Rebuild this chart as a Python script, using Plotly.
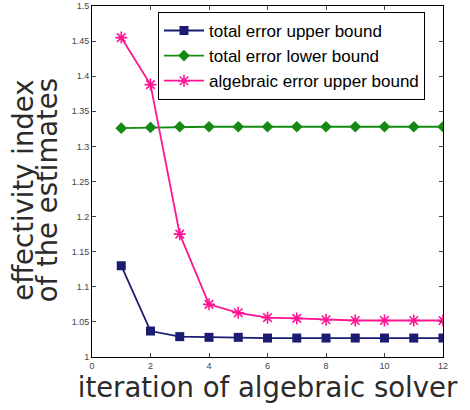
import plotly.graph_objects as go

iterations = [1, 2, 3, 4, 5, 6, 7, 8, 9, 10, 11, 12]
total_upper = [1.130, 1.037, 1.029, 1.028, 1.028, 1.027, 1.027, 1.027, 1.027, 1.027, 1.027, 1.027]
total_lower = [1.326, 1.327, 1.328, 1.328, 1.328, 1.328, 1.328, 1.328, 1.328, 1.328, 1.328, 1.328]
alg_upper = [1.455, 1.388, 1.175, 1.075, 1.063, 1.056, 1.055, 1.053, 1.052, 1.052, 1.052, 1.052]

names = ["total error upper bound", "total error lower bound", "algebraic error upper bound"]
y_ticks = [1, 1.05, 1.1, 1.15, 1.2, 1.25, 1.3, 1.35, 1.4, 1.45, 1.5]
y_tick_labels = ["1", "1.05", "1.1", "1.15", "1.2", "1.25", "1.3", "1.35", "1.4", "1.45", "1.5"]
x_ticks = [0, 2, 4, 6, 8, 10, 12]
x_title = "iteration of algebraic solver"
y_title_lines = ["effectivity index", "of the estimates"]

fig = go.Figure()
fig.add_trace(go.Scatter(x=iterations, y=total_upper, name=names[0], mode="lines+markers",
                         line=dict(color="#1b1b72", width=1.8),
                         marker=dict(symbol="square", size=9, color="#1b1b72")))
fig.add_trace(go.Scatter(x=iterations, y=total_lower, name=names[1], mode="lines+markers",
                         line=dict(color="#148a14", width=1.8),
                         marker=dict(symbol="diamond", size=9, color="#148a14")))
fig.add_trace(go.Scatter(x=iterations, y=alg_upper, name=names[2], mode="lines+markers",
                         line=dict(color="#ff1493", width=1.8),
                         marker=dict(symbol="asterisk-open", size=10, color="#ff1493",
                                     line=dict(color="#ff1493", width=1.6))))

title_font = dict(family="DejaVu Sans, sans-serif", size=27.5, color="#2b2b2b")

fig.update_layout(
    width=470, height=410,
    margin=dict(l=92, r=27, t=6, b=53),
    plot_bgcolor="white", paper_bgcolor="white",
    font=dict(family="Liberation Sans, Arial, sans-serif", color="#333333"),
    legend=dict(x=0.188, y=0.983, xanchor="left", yanchor="top",
                bgcolor="white", bordercolor="black", borderwidth=1,
                font=dict(size=17, color="black"), tracegroupgap=0, itemwidth=40),
    xaxis=dict(range=[0, 12], tickvals=x_ticks, ticks="inside", ticklen=4,
               showline=True, linecolor="black", linewidth=1, mirror="ticks",
               showgrid=False, zeroline=False, automargin=False,
               tickfont=dict(size=9, color="#444444"),
               title=dict(text=x_title, standoff=4, font=title_font)),
    yaxis=dict(range=[1, 1.5], tickvals=y_ticks, ticktext=y_tick_labels, ticks="inside", ticklen=4,
               showline=True, linecolor="black", linewidth=1, mirror="ticks",
               showgrid=False, zeroline=False, automargin=False,
               tickfont=dict(size=9, color="#444444")),
)

for xpos, line in zip([-0.197, -0.127], y_title_lines):
    fig.add_annotation(text=line, xref="paper", yref="paper", x=xpos, y=0.476,
                       xanchor="center", yanchor="middle", textangle=-90,
                       showarrow=False, font=title_font)

fig.write_html("out.html", config={"displayModeBar": False},
               post_script="document.body.style.margin='0px';")
